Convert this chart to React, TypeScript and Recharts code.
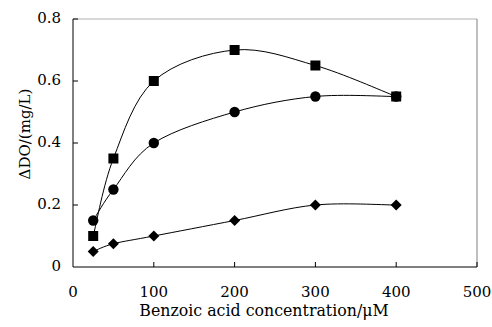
import React from 'react';
import { LineChart, Line, XAxis, YAxis, ReferenceLine } from 'recharts';

const concentrations = [25, 50, 100, 200, 300, 400];
const squareSeries = [0.1, 0.35, 0.6, 0.7, 0.65, 0.55];
const circleSeries = [0.15, 0.25, 0.4, 0.5, 0.55, 0.55];
const diamondSeries = [0.05, 0.075, 0.1, 0.15, 0.2, 0.2];
const xTicks = [0, 100, 200, 300, 400, 500];
const yTicks = [0, 0.2, 0.4, 0.6, 0.8];
const yTickLabels = ['0', '0.2', '0.4', '0.6', '0.8'];

const data = concentrations.map((x, i) => ({
  x,
  sq: squareSeries[i],
  ci: circleSeries[i],
  di: diamondSeries[i],
}));

const FONT = '"DejaVu Serif", serif';

// Excel-like smoothed line (Catmull-Rom as cubic Bezier)
function smoothCurve(context: any) {
  let pts: number[][] = [];
  return {
    areaStart() {},
    areaEnd() {},
    lineStart() {
      pts = [];
    },
    point(x: number, y: number) {
      pts.push([+x, +y]);
    },
    lineEnd() {
      const n = pts.length;
      if (!n) return;
      context.moveTo(pts[0][0], pts[0][1]);
      for (let i = 0; i < n - 1; i++) {
        const p0 = pts[Math.max(i - 1, 0)];
        const p1 = pts[i];
        const p2 = pts[i + 1];
        const p3 = pts[Math.min(i + 2, n - 1)];
        const c1x = p1[0] + (p2[0] - p0[0]) / 6;
        const c1y = p1[1] + (p2[1] - p0[1]) / 6;
        const c2x = p2[0] - (p3[0] - p1[0]) / 6;
        const c2y = p2[1] - (p3[1] - p1[1]) / 6;
        context.bezierCurveTo(c1x, c1y, c2x, c2y, p2[0], p2[1]);
      }
    },
  };
}

const SquareDot = (p: any) => (
  <rect key={p.index} x={p.cx - 5} y={p.cy - 5} width={10} height={10} fill="#000" />
);
const CircleDot = (p: any) => <circle key={p.index} cx={p.cx} cy={p.cy} r={5.2} fill="#000" />;
const DiamondDot = (p: any) => (
  <polygon
    key={p.index}
    points={`${p.cx},${p.cy - 5.5} ${p.cx + 5.5},${p.cy} ${p.cx},${p.cy + 5.5} ${p.cx - 5.5},${p.cy}`}
    fill="#000"
  />
);

const XTick = (p: any) => {
  const { x, y, payload } = p;
  return (
    <g>
      {payload.value !== 0 && <line x1={x} x2={x} y1={y} y2={y - 5} stroke="#000" strokeWidth={1} />}
      <text x={x} y={y + 30} textAnchor="middle" fontFamily={FONT} fontSize={15} fill="#000">
        {String(payload.value)}
      </text>
    </g>
  );
};

const YTick = (p: any) => {
  const { x, y, payload } = p;
  return (
    <g>
      {payload.value !== 0 && <line x1={x} x2={x + 5} y1={y} y2={y} stroke="#000" strokeWidth={1} />}
      <text x={x - 12} y={y + 4} textAnchor="end" fontFamily={FONT} fontSize={15} fill="#000">
        {yTickLabels[yTicks.indexOf(payload.value)] ?? String(payload.value)}
      </text>
    </g>
  );
};

export default function App() {
  return (
    <div style={{ position: 'absolute', left: 0, top: 0, background: '#fff' }}>
      <LineChart width={492} height={327} data={data} margin={{ top: 19, right: 15, bottom: 0, left: 0 }}>
        <ReferenceLine y={0.8} stroke="#b0b0b0" strokeWidth={1} />
        <ReferenceLine x={500} stroke="#808080" strokeWidth={1} />
        <XAxis
          dataKey="x"
          type="number"
          domain={[0, 500]}
          ticks={xTicks}
          tickSize={0}
          tickMargin={0}
          tickLine={false}
          tick={<XTick />}
          axisLine={{ stroke: '#000', strokeWidth: 1 }}
          height={60}
          interval={0}
          label={{
            value: 'Benzoic acid concentration/μM',
            content: (lp: any) => {
              const vb = lp.viewBox;
              return (
                <text x={vb.x + vb.width / 2 - 11} y={vb.y + 49} textAnchor="middle" fontFamily={FONT} fontSize={15.8} fill="#000">
                  Benzoic acid concentration/μM
                </text>
              );
            },
          }}
        />
        <YAxis
          type="number"
          domain={[0, 0.8]}
          ticks={yTicks}
          tickSize={0}
          tickMargin={0}
          tickLine={false}
          tick={<YTick />}
          axisLine={{ stroke: '#000', strokeWidth: 1 }}
          width={73}
          interval={0}
          label={{
            value: 'ΔDO/(mg/L)',
            content: (lp: any) => {
              const vb = lp.viewBox;
              const cx = vb.x + 30;
              const cy = vb.y + vb.height / 2 - 9;
              return (
                <text x={cx} y={cy} transform={`rotate(-90, ${cx}, ${cy})`} textAnchor="middle" fontFamily={FONT} fontSize={15} fill="#000">
                  ΔDO/(mg/L)
                </text>
              );
            },
          }}
        />
        <Line dataKey="di" type={smoothCurve as any} stroke="#000" strokeWidth={1} dot={DiamondDot} activeDot={false} isAnimationActive={false} />
        <Line dataKey="ci" type={smoothCurve as any} stroke="#000" strokeWidth={1} dot={CircleDot} activeDot={false} isAnimationActive={false} />
        <Line dataKey="sq" type={smoothCurve as any} stroke="#000" strokeWidth={1} dot={SquareDot} activeDot={false} isAnimationActive={false} />
      </LineChart>
    </div>
  );
}
